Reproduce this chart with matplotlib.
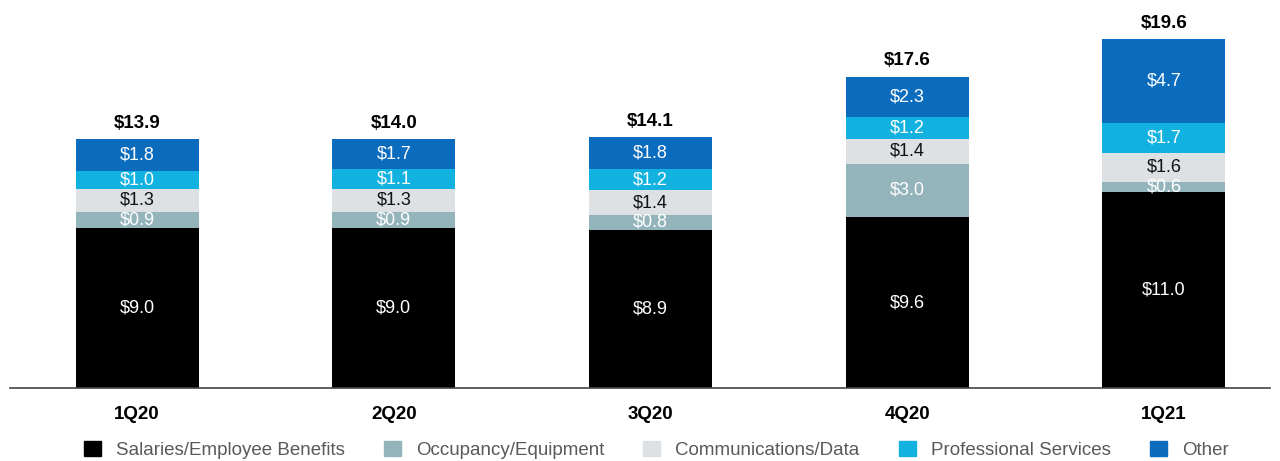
import matplotlib.pyplot as plt
import numpy as np
from matplotlib.patches import Patch

plt.rcParams['font.family'] = ['Liberation Sans', 'DejaVu Sans']

quarters = ['1Q20', '2Q20', '3Q20', '4Q20', '1Q21']
salaries = [9.0, 9.0, 8.9, 9.6, 11.0]
occupancy = [0.9, 0.9, 0.8, 3.0, 0.6]
comms = [1.3, 1.3, 1.4, 1.4, 1.6]
prof = [1.0, 1.1, 1.2, 1.2, 1.7]
other = [1.8, 1.7, 1.8, 2.3, 4.7]
totals = [13.9, 14.0, 14.1, 17.6, 19.6]

series = [
    ('Salaries/Employee Benefits', salaries, '#000000', 'white'),
    ('Occupancy/Equipment', occupancy, '#93b4bb', 'white'),
    ('Communications/Data', comms, '#dde1e4', '#111111'),
    ('Professional Services', prof, '#12b2e0', 'white'),
    ('Other', other, '#0b6bbd', 'white'),
]

fig = plt.figure(figsize=(12.8, 4.61), dpi=100)
ax = fig.add_axes([10 / 1280, 73 / 461, 1260 / 1280, 388 / 461])

x = np.arange(len(quarters))
bottom = np.zeros(len(quarters))
for name, vals, col, tcol in series:
    vals = np.array(vals)
    ax.bar(x, vals, width=0.479, bottom=bottom, color=col, label=name)
    for xi, b, v in zip(x, bottom, vals):
        ax.text(xi, b + v / 2, f'${v:.1f}', ha='center', va='center',
                color=tcol, fontsize=13)
    bottom = bottom + vals

for xi, top, t in zip(x, bottom, totals):
    ax.text(xi, top + 0.4, f'${t:.1f}', ha='center', va='bottom',
            fontsize=13.5, fontweight='bold')

ax.set_xlim(-0.495, 4.413)
ax.set_ylim(0, 21.8)
for s in ['top', 'right', 'left']:
    ax.spines[s].set_visible(False)
ax.spines['bottom'].set_color('#444444')
ax.spines['bottom'].set_linewidth(1.2)
ax.set_yticks([])
ax.set_xticks(x)
ax.set_xticklabels(quarters, fontweight='bold', fontsize=13.5)
ax.tick_params(axis='x', length=0, pad=13)

handles = [Patch(color=c) for _, _, c, _ in series]
labels = [n for n, _, _, _ in series]
leg = fig.legend(handles, labels, loc='center', ncol=5, frameon=False,
                 bbox_to_anchor=(0.5126, 11 / 461), fontsize=13.5,
                 handlelength=0.9, handleheight=0.9, columnspacing=2.1,
                 handletextpad=0.8, borderaxespad=0, borderpad=0)
for t in leg.get_texts():
    t.set_color('#595959')

fig.savefig('out.png', dpi=100)
